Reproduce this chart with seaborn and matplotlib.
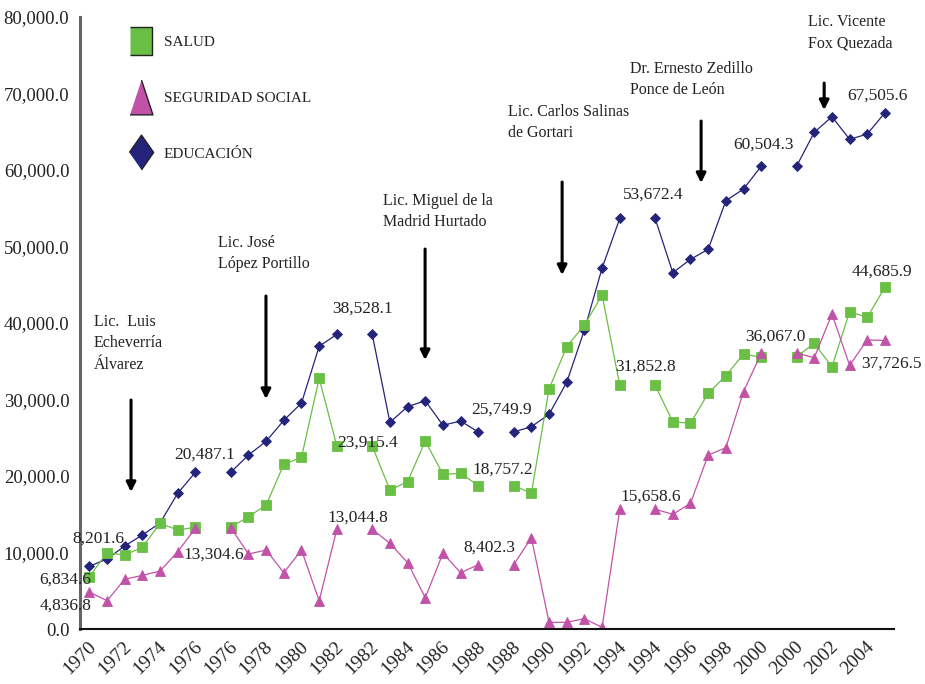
import numpy as np
import pandas as pd
import seaborn as sns
import matplotlib.pyplot as plt
import matplotlib.transforms as mtransforms
from matplotlib.lines import Line2D
from matplotlib.ticker import FuncFormatter, FixedLocator

nan = np.nan

# Gasto por sexenio (cada tramo repite el año de cambio de gobierno)
etiquetas_x = ["1970", "1972", "1974", "1976", "1976", "1978", "1980", "1982",
               "1982", "1984", "1986", "1988", "1988", "1990", "1992", "1994",
               "1994", "1996", "1998", "2000", "2000", "2002", "2004"]

educacion = [8201.6, 9150, 10850, 12290, 13860, 17740, 20487.1, nan,
             20487.1, 22745, 24535, 27280, 29540, 36955, 38528.1, nan,
             38528.1, 27020, 29060, 29845, 26630, 27190, 25749.9, nan,
             25749.9, 26445, 28065, 32250, 39085, 47170, 53672.4, nan,
             53672.4, 46575, 48325, 49635, 55990, 57515, 60504.3, nan,
             60504.3, 64925, 66970, 64010, 64705, 67505.6]

salud = [6834.6, 9975, 9670, 10680, 13815, 12940, 13304.6, nan,
         13290, 14680, 16210, 21530, 22445, 32770, 23915.4, nan,
         23915.4, 18170, 19260, 24575, 20220, 20350, 18757.2, nan,
         18757.2, 17740, 31370, 36900, 39740, 43660, 31852.8, nan,
         31852.8, 27100, 26890, 30810, 33110, 35950, 35515, nan,
         35600, 37340, 34290, 41480, 40740, 44685.9]

seguridad = [4836.8, 3700, 6495, 7015, 7580, 10110, 13160, nan,
             13245, 9800, 10325, 7360, 10325, 3700, 13044.8, nan,
             13044.8, 11200, 8670, 4095, 9890, 7360, 8402.3, nan,
             8402.3, 11935, 875, 875, 1350, 220, 15658.6, nan,
             15658.6, 14990, 16430, 22745, 23700, 31020, 36067.0, nan,
             36067.0, 35465, 41180, 34470, 37780, 37726.5]

# etiquetas de datos: (posicion, altura, texto)
etiquetas_datos = [
    (0.49, 11765, "8,201.6"), (-1.37, 6405, "6,834.6"), (-1.37, 3007, "4,836.8"),
    (7.06, 9673, "13,304.6"), (6.54, 22745, "20,487.1"),
    (15.43, 41830, "38,528.1"), (15.74, 24405, "23,915.4"), (15.2, 14510, "13,044.8"),
    (23.31, 28630, "25,749.9"), (23.4, 20785, "18,757.2"), (22.61, 10590, "8,402.3"),
    (31.46, 34290, "31,852.8"), (31.75, 17295, "15,658.6"), (31.87, 56735, "53,672.4"),
    (38.12, 63270, "60,504.3"), (38.78, 38210, "36,067.0"),
    (44.58, 69675, "67,505.6"), (44.85, 46710, "44,685.9"), (45.35, 34640, "37,726.5"),
]

# presidentes: texto (x, y arriba) y flecha (x, y inicio, y fin)
presidentes = [
    ("Lic.  Luis\nEcheverría\nÁlvarez", 0.27, 41175, 2.36, 29935, 17910),
    ("Lic. José\nLópez Portillo", 7.29, 51500, 9.99, 43530, 30065),
    ("Lic. Miguel de la\nMadrid Hurtado", 16.6, 57000, 18.99, 49670, 35160),
    ("Lic. Carlos Salinas\nde Gortari", 23.68, 68630, 26.74, 58430, 46275),
    ("Dr. Ernesto Zedillo\nPonce de León", 30.58, 74250, 34.6, 66405, 58300),
    ("Lic. Vicente\nFox Quezada", 40.65, 80390, 41.56, 71370, 67840),
]

verde = "#6abf45"
rosa = "#c152a8"
azul = "#24247a"

n = len(educacion)
posiciones = np.arange(n)
tramo = np.cumsum(np.isnan(educacion))

series = [("EDUCACIÓN", educacion, azul, "D", 5.2),
          ("SALUD", salud, verde, "s", 6.5),
          ("SEGURIDAD SOCIAL", seguridad, rosa, "^", 7.0)]

sns.set_theme(style="white")
plt.rcParams["font.family"] = ["Liberation Serif", "DejaVu Serif"]

fig = plt.figure(figsize=(9.25, 6.84), dpi=100)
ax = fig.add_axes([0.087, 0.0804, 0.8793, 0.8947])

for nombre, valores, color, marca, tam in series:
    df = pd.DataFrame({"pos": posiciones, "valor": valores, "tramo": tramo}).dropna()
    sns.lineplot(data=df, x="pos", y="valor", units="tramo", estimator=None,
                 color=color, marker=marca, markersize=tam, markeredgecolor=color,
                 markeredgewidth=0.6, linewidth=0.9, ax=ax, legend=False)

ax.set_xlim(-0.5, n - 0.5)
ax.set_ylim(0, 80000)
ax.set_xlabel("")
ax.set_ylabel("")

ax.xaxis.set_major_locator(FixedLocator(np.arange(0, n - 1, 2)))
ax.set_xticklabels(etiquetas_x, rotation=45, ha="right", va="center",
                   rotation_mode="anchor", fontsize=14, color="#222222")
ax.xaxis.set_minor_locator(FixedLocator(np.arange(-0.5, n, 1)))
ax.tick_params(axis="x", which="major", length=0, pad=11)
ax.tick_params(axis="x", which="minor", length=6, width=1.3, color="#777777", direction="out")
desplaza = mtransforms.ScaledTranslation(4 / 100, 0, fig.dpi_scale_trans)
for etiqueta in ax.get_xticklabels():
    etiqueta.set_transform(etiqueta.get_transform() + desplaza)

ax.set_yticks(np.arange(0, 80001, 10000))
ax.yaxis.set_major_formatter(FuncFormatter(lambda v, p: f"{v:,.1f}"))
ax.tick_params(axis="y", length=5, width=1.2, color="#777777", direction="out",
               labelsize=13.5, labelcolor="#222222", pad=3)

for lado in ["top", "right"]:
    ax.spines[lado].set_visible(False)
ax.spines["left"].set_color("#666666")
ax.spines["left"].set_linewidth(2.2)
ax.spines["bottom"].set_color("#111111")
ax.spines["bottom"].set_linewidth(1.5)

for x, y, texto in etiquetas_datos:
    ax.text(x, y, texto, ha="center", va="center", fontsize=12.5, color="#222222")

for texto, tx, ty, fx, fy0, fy1 in presidentes:
    ax.text(tx, ty, texto, ha="left", va="top", fontsize=11.5, color="#222222",
            linespacing=1.45)
    ax.annotate("", xy=(fx, fy1), xytext=(fx, fy0),
                arrowprops=dict(arrowstyle="-|>", color="black", lw=2.2,
                                mutation_scale=14, shrinkA=0, shrinkB=0))

rect = [(-0.4, -0.5), (0.4, -0.5), (0.4, 0.5), (-0.4, 0.5)]
tri = [(-0.33, -0.5), (0.33, -0.5), (0.0, 0.5)]
rombo = [(0.0, -0.5), (0.35, 0.0), (0.0, 0.5), (-0.35, 0.0)]
manijas = [
    Line2D([0], [0], marker=rect, ms=20, mfc=verde, mec="#222222", mew=1.0, ls="none"),
    Line2D([0], [0], marker=tri, ms=25, mfc=rosa, mec="#222222", mew=1.0, ls="none"),
    Line2D([0], [0], marker=rombo, ms=25, mfc=azul, mec="#222222", mew=1.0, ls="none"),
]
ax.legend(manijas, ["SALUD", "SEGURIDAD SOCIAL", "EDUCACIÓN"], loc="upper left",
          bbox_to_anchor=(122 / 925, 1 - 28 / 684), bbox_transform=fig.transFigure,
          frameon=False, fontsize=11, labelspacing=2.75, handletextpad=0.75,
          handlelength=1.5, borderpad=0, labelcolor="#222222")

fig.savefig("out.png", dpi=100)
